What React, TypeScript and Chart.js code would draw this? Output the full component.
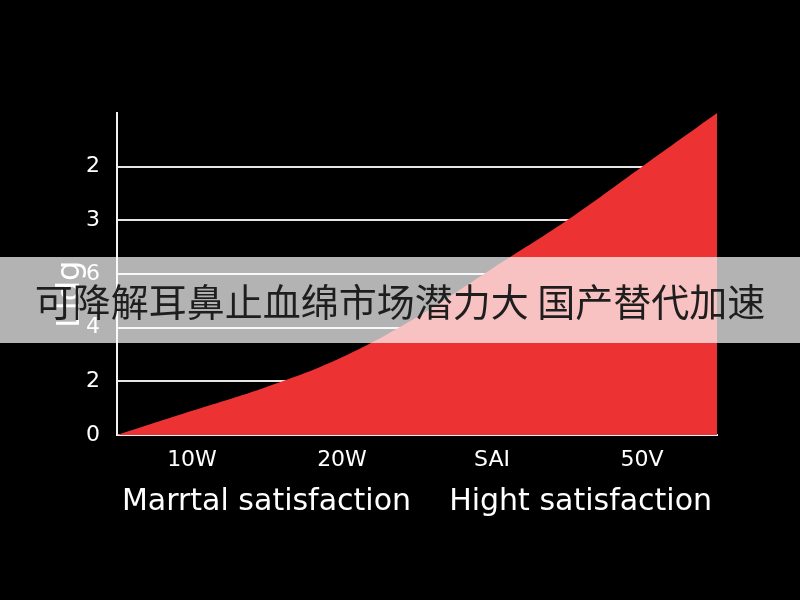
import { useEffect, useRef } from "react"
import { Chart, registerables } from "chart.js"

Chart.register(...registerables)

// curve points (x in category units, 0..4)
const curveX = [0, 0.5, 1, 1.5, 2, 2.5, 3, 3.5, 4]
const curveY = [0, 0.45, 0.9, 1.45, 2.2, 3.1, 4.0, 5.0, 6.0]

const xTickPositions = [0.5, 1.5, 2.5, 3.5]
const xLabels = ["10W", "20W", "SAI", "50V"]
// y tick labels as printed on the picture, bottom to top
const yLabels = ["0", "2", "4", "6", "3", "2"]

const yTitle = "Lldg"
const xTitle = "Marrtal satisfaction    Hight satisfaction"
const banner = "可降解耳鼻止血绵市场潜力大 国产替代加速"

const LATIN = "'DejaVu Sans', Arial, sans-serif"

export default function App() {
  const chartRef = useRef<HTMLCanvasElement>(null)
  const chartInstance = useRef<Chart | null>(null)

  useEffect(() => {
    if (!chartRef.current) return
    if (chartInstance.current) chartInstance.current.destroy()
    const ctx = chartRef.current.getContext("2d")
    if (!ctx) return

    chartInstance.current = new Chart(ctx, {
      type: "line",
      data: {
        datasets: [
          {
            data: curveX.map((x, i) => ({ x, y: curveY[i] })),
            backgroundColor: "#ec3233",
            borderWidth: 0,
            pointRadius: 0,
            fill: "origin",
            tension: 0.4,
          },
        ],
      },
      options: {
        responsive: false,
        animation: false,
        layout: { padding: { top: 113, right: 83, left: 0, bottom: 0 } },
        plugins: {
          legend: { display: false },
          tooltip: { enabled: false },
        },
        scales: {
          x: {
            type: "linear",
            min: 0,
            max: 4,
            afterBuildTicks: (scale: any) => {
              scale.ticks = xTickPositions.map((v) => ({ value: v }))
            },
            afterFit: (scale: any) => {
              scale.height = 165
            },
            grid: { display: false, drawTicks: false },
            border: { color: "#f2f2f2", width: 2 },
            ticks: {
              color: "#ffffff",
              padding: 12,
              font: { family: LATIN, size: 22 },
              callback: (_v: any, i: number) => xLabels[i],
            },
            title: {
              display: true,
              text: xTitle,
              color: "#ffffff",
              font: { family: LATIN, size: 30 },
              padding: { top: 0, bottom: 80 },
            },
          },
          y: {
            min: 0,
            max: 6,
            afterFit: (scale: any) => {
              scale.width = 117
            },
            grid: {
              drawTicks: false,
              lineWidth: 2,
              color: (c: any) => (c.tick && c.tick.value === 6 ? "transparent" : "#e6e6e6"),
            },
            border: { color: "#f2f2f2", width: 2 },
            ticks: {
              stepSize: 1,
              color: "#ffffff",
              padding: 17,
              font: { family: LATIN, size: 22 },
              callback: (v: any) => (v >= 6 ? "" : yLabels[v]),
            },
            title: {
              display: true,
              text: yTitle + "    ",
              color: "#ffffff",
              font: { family: LATIN, size: 32 },
              padding: { top: 51, bottom: 0 },
            },
          },
        },
      },
    })

    return () => {
      if (chartInstance.current) {
        chartInstance.current.destroy()
        chartInstance.current = null
      }
    }
  }, [])

  return (
    <div style={{ position: "fixed", left: 0, top: 0, width: 800, height: 600, background: "#000" }}>
      <canvas ref={chartRef} width={800} height={600} style={{ width: 800, height: 600 }} />
      <div
        style={{
          position: "absolute",
          left: 0,
          top: 257,
          width: 800,
          height: 86,
          lineHeight: "86px",
          background: "rgba(255,255,255,0.7)",
          color: "#1e1e1e",
          fontFamily: "'Noto Sans CJK SC', sans-serif",
          fontSize: 38,
          textAlign: "center",
          whiteSpace: "nowrap",
        }}
      >
        {banner}
      </div>
    </div>
  )
}
